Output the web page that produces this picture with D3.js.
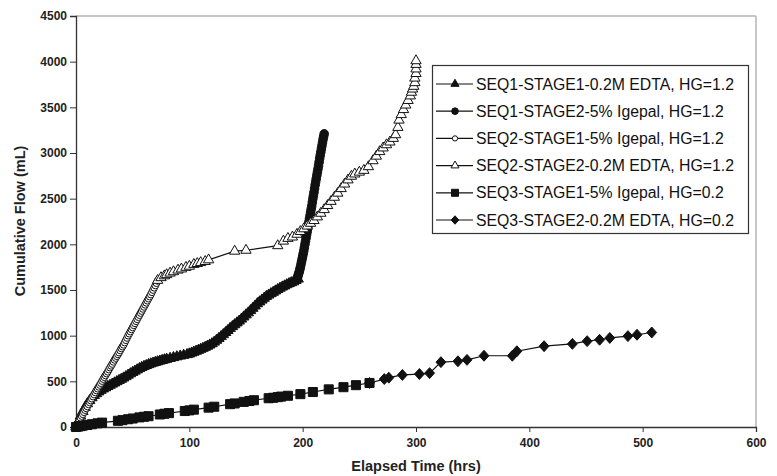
<!DOCTYPE html>
<html>
<head>
<meta charset="utf-8">
<script src="https://cdn.jsdelivr.net/npm/d3@7/dist/d3.min.js"></script>
<style>
  html, body { margin: 0; padding: 0; background: #fff; }
  svg { display: block; font-family: "Liberation Sans", Arial, Helvetica, sans-serif; }
</style>
</head>
<body>
<div id="chart"></div>
<script>
// Series values: [elapsed time (hrs), cumulative flow (mL)]
const seq1Stage1 = [
  [0,0],[2,60],[4,120],[6,170],[8,215],[10,255],[12,290],[14,320],[16,345],[18,365],[20,385],
  [22,402],[24,417],[26,430],[28,444],[30,457],[32,470],[34,483],[36,497],[38,510],[40,523],
  [42,537],[44,552],[46,568],[48,583],[50,598],[52,612],[54,626],[56,640],[58,652],[60,664],
  [62,673],[64,683],[66,692],[68,700],[70,708],[72,715],[74,722],[76,729],[78,736],[80,742],
  [83,751],[86,760],[89,769],[92,777],[95,785],[98,793],[100,800],[102,810],[104,820],[106,830],
  [108,840],[110,851],[112,862],[114,873],[116,885],[118,898],[120,912],[122,930],[124,950],
  [126,970],[128,990],[130,1012],[132,1035],[134,1057],[136,1080],[138,1100],[140,1120],
  [142,1140],[144,1160],[146,1182],[148,1205],[150,1228],[152,1250],[154,1275],[156,1300],
  [158,1325],[160,1350],[162,1370],[164,1390],[166,1410],[168,1430],[170,1445],[172,1460],
  [174,1475],[176,1490],[178,1505],[180,1520],[182,1533],[184,1545],[186,1558],[188,1570],
  [190,1580],[192,1590],[194,1605],[196,1620]
];
const seq1Stage2 = [
  [195,1620],[195.5,1640],[196,1660],[196.5,1680],[197,1700],[197.5,1725],[198,1750],[198.5,1780],
  [199,1810],[199.5,1840],[200,1870],[200.5,1900],[201,1930],[201.5,1965],[202,2000],[202.5,2035],
  [203,2070],[203.5,2105],[204,2140],[204.5,2175],[205,2210],[205.5,2245],[206,2280],[206.5,2315],
  [207,2350],[207.5,2385],[208,2420],[208.5,2460],[209,2500],[209.5,2535],[210,2570],[210.5,2610],
  [211,2650],[211.5,2685],[212,2720],[212.5,2755],[213,2790],[213.5,2825],[214,2860],[214.5,2900],
  [215,2940],[215.5,2975],[216,3010],[216.5,3045],[217,3080],[217.5,3115],[218,3150],[218.5,3180],
  [219,3210]
];
const seq2Stage1 = [
  [0,0],[1,25],[2,50],[3,75],[4,100],[5,120],[6,140],[7,162],[8,185],[9,205],[10,225],[11,248],
  [12,270],[13,290],[14,310],[15,333],[16,355],[17,378],[18,400],[19,420],[20,440],[21,460],
  [22,480],[23,503],[24,525],[25,545],[26,565],[27,585],[28,605],[29,628],[30,650],[31,670],
  [32,690],[33,713],[34,735],[35,755],[36,775],[37,795],[38,815],[39,838],[40,860],[41,880],
  [42,900],[43,925],[44,950],[45,975],[46,1000],[47,1022],[48,1045],[49,1068],[50,1090],
  [51,1113],[52,1135],[53,1158],[54,1180],[55,1203],[56,1225],[57,1248],[58,1270],[59,1293],
  [60,1315],[61,1338],[62,1360],[63,1383],[64,1405],[65,1428],[66,1450],[67,1475],[68,1500],
  [69,1525],[70,1550],[71,1575],[72,1600]
];
const seq2Stage2 = [
  [72,1605],[75,1635],[78,1655],[80,1668],[83,1685],[86,1700],[90,1718],[93,1730],[97,1748],
  [100,1760],[104,1780],[107,1790],[110,1800],[114,1812],[117,1830],[140,1925],[150,1935],
  [178,1985],[183,2035],[187,2065],[191,2080],[195,2110],[198,2140],[201,2170],[204,2200],
  [207,2230],[210,2260],[213,2300],[216,2340],[219,2380],[222,2425],[225,2470],[228,2515],
  [231,2560],[234,2610],[237,2660],[240,2705],[243,2745],[246,2770],[250,2790],[254,2810],
  [258,2850],[262,2915],[265,2965],[268,3015],[271,3055],[274,3090],[277,3120],[280,3160],
  [282,3200],[284,3280],[285,3360],[287,3420],[289,3475],[291,3525],[293,3575],[295,3625],
  [296,3665],[297,3700],[298,3730],[299,3770],[299,3820],[300,3870],[300,3920],[300,3970],[300,4010]
];
const seq3Stage1 = [
  [0,0],[2,5],[4,10],[6,15],[10,22],[14,30],[19,40],[23,48],[37,68],[41,75],[46,85],[50,93],
  [56,105],[60,112],[64,118],[74,137],[78,145],[82,152],[96,175],[100,182],[104,190],[117,212],
  [122,222],[136,250],[140,258],[148,275],[153,285],[157,293],[170,315],[174,320],[178,327],
  [181,333],[187,342],[198,360],[209,383],[223,412],[236,436],[247,458],[259,482]
];
const seq3Stage2 = [
  [259,482],[272,525],[276,540],[288,570],[303,580],[312,590],[322,710],[337,720],[345,735],
  [360,780],[385,780],[389,830],[413,885],[438,910],[451,940],[462,955],[471,975],[487,995],
  [495,1010],[508,1035]
];

const seriesNames = [
  "SEQ1-STAGE1-0.2M EDTA, HG=1.2",
  "SEQ1-STAGE2-5% Igepal, HG=1.2",
  "SEQ2-STAGE1-5% Igepal, HG=1.2",
  "SEQ2-STAGE2-0.2M EDTA, HG=1.2",
  "SEQ3-STAGE1-5% Igepal, HG=0.2",
  "SEQ3-STAGE2-0.2M EDTA, HG=0.2"
];
const xTicks = [0, 100, 200, 300, 400, 500, 600];
const yTicks = [0, 500, 1000, 1500, 2000, 2500, 3000, 3500, 4000, 4500];

// wide diamond, like the spreadsheet marker
const wideDiamond = {
  draw(ctx, size) {
    const w = Math.sqrt(size / 2) * 0.95, h = Math.sqrt(size / 2) * 1.05;
    ctx.moveTo(0, -h); ctx.lineTo(w, 0); ctx.lineTo(0, h); ctx.lineTo(-w, 0); ctx.closePath();
  }
};

const series = [
  { name: seriesNames[0], values: seq1Stage1, shape: d3.symbolTriangle, size: 48, fill: "#111" },
  { name: seriesNames[1], values: seq1Stage2, shape: d3.symbolCircle,   size: 58, fill: "#111" },
  { name: seriesNames[2], values: seq2Stage1, shape: d3.symbolCircle,   size: 36, fill: "#fff" },
  { name: seriesNames[3], values: seq2Stage2, shape: d3.symbolTriangle, size: 46, fill: "#fff" },
  { name: seriesNames[4], values: seq3Stage1, shape: d3.symbolSquare,   size: 82, fill: "#111" },
  { name: seriesNames[5], values: seq3Stage2, shape: wideDiamond,       size: 54, fill: "#111" }
];

const width = 777, height = 476;
const margin = { top: 16, right: 20, bottom: 49, left: 76 };

const svg = d3.select("#chart").append("svg")
  .attr("width", width).attr("height", height);

const x = d3.scaleLinear().domain([0, 600]).range([margin.left, 756]);
const y = d3.scaleLinear().domain([0, 4500]).range([height - margin.bottom, margin.top]);

// plot frame (grey top/right)
svg.append("line").attr("x1", x(0)).attr("x2", x(600)).attr("y1", y(4500)).attr("y2", y(4500))
  .attr("stroke", "#b5b5b5").attr("stroke-width", 1.5);
svg.append("line").attr("x1", x(600)).attr("x2", x(600)).attr("y1", y(4500)).attr("y2", y(0))
  .attr("stroke", "#b5b5b5").attr("stroke-width", 1.5);

// axes
const xAxis = svg.append("g").attr("transform", `translate(0,${y(0)})`)
  .call(d3.axisBottom(x).tickValues(xTicks).tickSize(5).tickPadding(6).tickFormat(d3.format("d")));
const yAxis = svg.append("g").attr("transform", `translate(${x(0)},0)`)
  .call(d3.axisLeft(y).tickValues(yTicks).tickSize(6).tickPadding(3).tickFormat(d3.format("d")));
[xAxis, yAxis].forEach(a => {
  a.select(".domain").attr("stroke", "#333").attr("stroke-width", 1.3);
  a.selectAll(".tick line").attr("stroke", "#333");
  a.selectAll(".tick text").attr("font-size", 12).attr("font-weight", "bold")
    .attr("fill", "#222").attr("font-family", "'Liberation Sans', Arial, sans-serif");
});

// axis titles
svg.append("text").attr("x", 416).attr("y", 471).attr("text-anchor", "middle")
  .attr("font-size", 14.5).attr("font-weight", "bold").attr("fill", "#222")
  .text("Elapsed Time (hrs)");
svg.append("text").attr("transform", "translate(25,221) rotate(-90)").attr("text-anchor", "middle")
  .attr("font-size", 14.5).attr("font-weight", "bold").attr("fill", "#222")
  .text("Cumulative Flow (mL)");

// series
const line = d3.line().x(d => x(d[0])).y(d => y(d[1]));
series.forEach(s => {
  const g = svg.append("g");
  g.append("path").datum(s.values).attr("d", line)
    .attr("fill", "none").attr("stroke", "#111").attr("stroke-width", 1.2);
  g.selectAll("path.m").data(s.values).join("path").attr("class", "m")
    .attr("transform", d => `translate(${x(d[0])},${y(d[1])})`)
    .attr("d", d3.symbol().type(s.shape).size(s.size))
    .attr("fill", s.fill).attr("stroke", "#111").attr("stroke-width", 1);
});

// legend
const lg = svg.append("g");
lg.append("rect").attr("x", 432.5).attr("y", 65.5).attr("width", 316).attr("height", 168)
  .attr("fill", "#fff").attr("stroke", "#333").attr("stroke-width", 1.2);
const rowY = d3.scaleLinear().domain([0, 5]).range([84, 220]);
series.forEach((s, i) => {
  const cy = rowY(i);
  lg.append("line").attr("x1", 436).attr("x2", 473).attr("y1", cy).attr("y2", cy)
    .attr("stroke", "#111").attr("stroke-width", 1.2);
  lg.append("path").attr("transform", `translate(455,${cy})`)
    .attr("d", d3.symbol().type(s.shape).size(s.size * 0.6))
    .attr("fill", s.fill).attr("stroke", "#111").attr("stroke-width", 1);
  lg.append("text").attr("x", 476).attr("y", cy + 5.5)
    .attr("font-size", 15.8).attr("fill", "#111").text(s.name);
});
</script>
</body>
</html>
